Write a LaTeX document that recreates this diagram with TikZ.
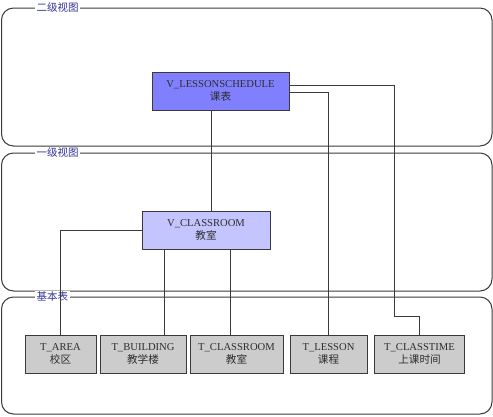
\documentclass[tikz,border=0pt]{standalone}
\usepackage{fontspec}
\setmainfont{Liberation Serif}
\newfontfamily\cjk{Noto Sans CJK SC}
\usetikzlibrary{positioning}
\definecolor{viewTop}{HTML}{8080FF}
\definecolor{viewMid}{HTML}{C4C4FF}
\definecolor{tableGray}{HTML}{CCCCCC}
\definecolor{groupText}{HTML}{333399}
\definecolor{lineDark}{HTML}{3A3A3A}
\definecolor{textDark}{HTML}{2D2D2D}

\begin{document}
\begin{tikzpicture}[x=1pt, y=-1pt,
    grp/.style={draw=lineDark, line width=1pt, rounded corners=12pt},
    grplabel/.style={fill=white, inner sep=1.5pt, anchor=west,
                     font=\fontsize{10.5}{11}\selectfont\cjk\color{groupText}},
    tbl/.style={rectangle, draw=lineDark, fill=#1, minimum height=38pt,
                inner sep=1pt, align=center,
                font=\fontsize{10.6}{13}\selectfont\color{textDark}},
    link/.style={draw=lineDark, line width=0.8pt},
  ]
    \useasboundingbox (0,0) rectangle (493,416);

    % group frames
    \draw[grp] (1.5,8) rectangle (492,146);
    \draw[grp] (1.5,153) rectangle (492,291);
    \draw[grp] (1.5,297) rectangle (492,414);
    \node[grplabel] (g2) at (35,8) {二级视图};
    \node[grplabel] (g1) at (35,153) {一级视图};
    \node[grplabel] (g0) at (35,297) {基本表};

    % views
    \node[tbl=viewTop, minimum width=137pt] (lsch) at (220.5,91)
      {V\_LESSONSCHEDULE\\{\cjk 课表}};
    \node[tbl=viewMid, minimum width=128pt] (cls) at (206,230)
      {V\_CLASSROOM\\{\cjk 教室}};

    % base tables
    \node[tbl=tableGray, minimum width=71pt] (area) at (60.5,354)
      {T\_AREA\\{\cjk 校区}};
    \node[tbl=tableGray, minimum width=86pt] (bld) at (143,354)
      {T\_BUILDING\\{\cjk 教学楼}};
    \node[tbl=tableGray, minimum width=93pt] (room) at (236.5,354)
      {T\_CLASSROOM\\{\cjk 教室}};
    \node[tbl=tableGray, minimum width=77pt] (lesson) at (328.5,354)
      {T\_LESSON\\{\cjk 课程}};
    \node[tbl=tableGray, minimum width=90pt] (ctime) at (419.5,354)
      {T\_CLASSTIME\\{\cjk 上课时间}};

    % links
    \coordinate (bend) at (394,316);
    \draw[link] ([xshift=-9.5pt]lsch.south) -- ([xshift=-9.5pt]lsch.south |- cls.north);
    \draw[link] ([yshift=-1pt]lsch.east) -| (lesson.north);
    \draw[link] ([yshift=6pt]lsch.east) -| (bend) -| (ctime.north);
    \draw[link] (cls.west) -| (area.north);
    \draw[link] ([xshift=-42pt]cls.south) -- ([xshift=-42pt]cls.south |- bld.north);
    \draw[link] ([xshift=24.5pt]cls.south) -- ([xshift=24.5pt]cls.south |- room.north);
  \end{tikzpicture}
\end{document}
